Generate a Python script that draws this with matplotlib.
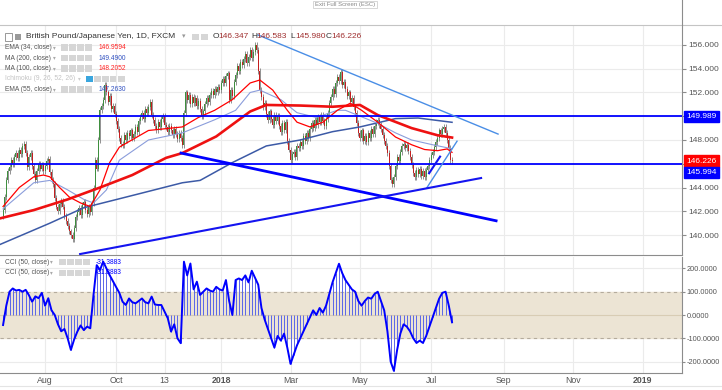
# %%
import matplotlib.pyplot as plt
from matplotlib.patches import Rectangle
import numpy as np
import pandas as pd

plt.rcParams["font.family"] = ["Liberation Sans", "DejaVu Sans"]

# %%
# GBP/JPY daily closes, first bar on 26 Jun 2017
start_date = "2017-06-26"
first_open = 141.6
closes = [
    142.1, 143.2, 144.6, 145.4, 145.7, 146.3, 146.0, 146.6, 146.9, 146.5,
    147.2, 146.8, 147.5, 147.7, 146.9, 145.7, 146.6, 146.9, 145.8, 145.1,
    144.6, 145.4, 146.0, 145.6, 145.9, 145.4, 145.8, 146.2, 146.4, 145.3,
    144.6, 144.3, 143.1, 142.4, 142.0, 142.6, 142.9, 142.4, 141.6, 141.2,
    140.8, 140.3, 140.0, 139.7, 140.6, 141.5, 141.9, 142.3, 141.7, 142.5,
    142.8, 142.1, 141.8, 142.4, 141.9, 142.7, 144.0, 146.3, 145.6, 148.0,
    150.5, 150.9, 151.4, 152.6, 152.0, 151.2, 151.7, 150.6, 150.9, 150.2,
    149.6, 148.9, 148.2, 147.7, 147.6, 148.4, 148.0, 148.6, 148.3, 148.8,
    148.2, 148.5, 149.1, 148.7, 149.6, 149.9, 150.3, 149.8, 150.6, 150.3,
    150.8, 151.2, 150.1, 149.7, 149.2, 148.8, 149.5, 149.1, 149.8, 150.0,
    149.3, 149.1, 148.7, 149.2, 148.8, 148.4, 148.9, 148.5, 148.1, 148.6,
    148.2, 147.6, 150.3, 152.0, 151.4, 151.8, 151.0, 151.6, 151.1, 151.5,
    150.9, 151.3, 150.6, 150.0, 150.4, 151.0, 151.5, 151.2, 151.8, 152.1,
    151.8, 152.3, 152.0, 152.5, 152.2, 152.8, 153.1, 152.8, 153.4, 153.6,
    151.4, 152.2, 151.7, 152.9, 153.5, 154.2, 153.8, 154.6, 154.3, 154.8,
    155.2, 154.5, 155.0, 155.6, 154.9, 155.4, 156.0, 155.6, 153.8, 152.2,
    151.6, 150.8, 151.1, 150.2, 149.7, 150.4, 149.8, 149.3, 150.1, 149.6,
    150.0, 149.2, 148.7, 149.4, 148.8, 149.5, 147.9, 147.2, 146.3, 146.8,
    147.0, 146.6, 147.5, 147.3, 147.8, 147.5, 148.3, 147.9, 148.6, 148.2,
    148.9, 149.4, 149.0, 149.7, 149.3, 149.9, 149.5, 150.1, 149.6, 149.2,
    149.8, 150.3, 151.1, 151.6, 152.3, 151.9, 152.8, 153.3, 153.0, 153.7,
    152.6, 152.9, 152.3, 151.7, 152.0, 151.2, 151.5, 150.8, 150.3, 149.4,
    148.6, 148.2, 148.8, 147.9, 148.3, 147.8, 148.6, 148.2, 148.9, 148.5,
    149.2, 149.5, 149.7, 149.3, 148.9, 148.4, 147.9, 147.5, 146.9, 145.8,
    144.6, 144.3, 144.9, 145.8, 146.6, 146.2, 147.0, 147.5, 147.7, 147.3,
    147.6, 147.1, 146.6, 145.9, 145.2, 144.9, 145.5, 145.1, 145.6, 145.0,
    145.4, 144.9, 145.5, 145.8, 146.3, 146.7, 147.0, 147.4, 147.8, 148.2,
    148.8, 148.5, 148.9, 149.1, 148.6, 148.0, 147.3, 146.347, 146.226,
]
last_high = 146.583
last_low = 145.980
wick = 0.25

# moving averages (bar index, value)
ema34_bars = [0, 10, 19, 25, 29, 35, 41, 48, 54, 60, 66, 72, 90, 111, 121, 131, 142,
              153, 159, 167, 176, 182, 190, 198, 207, 215, 222, 232, 243, 253, 261,
              269, 275, 278]
ema34_vals = [142.4, 144.0, 144.9, 145.05, 144.9, 144.0, 143.2, 142.7, 142.4, 143.8,
              146.1, 147.4, 148.8, 149.1, 149.9, 150.5, 151.4, 152.8, 153.05, 152.2,
              150.5, 149.5, 149.1, 149.5, 150.5, 151.1, 150.5, 149.5, 148.25, 147.6,
              147.2, 147.1, 147.25, 146.9594]
ema55_bars = [0, 19, 29, 40, 50, 56, 64, 72, 90, 111, 131, 144, 153, 159, 172, 182,
              194, 207, 212, 232, 243, 253, 266, 278]
ema55_vals = [142.2, 144.4, 144.6, 143.8, 143.0, 142.7, 143.8, 146.3, 148.0, 148.6,
              149.7, 150.5, 152.0, 152.2, 151.4, 150.3, 149.9, 150.5, 150.5, 149.4,
              148.6, 148.0, 147.6, 147.263]
ma100_bars = [-2, 19, 40, 60, 80, 101, 111, 132, 153, 163, 184, 204, 221, 232, 253,
              269, 278]
ma100_vals = [141.4, 142.1, 143.0, 144.0, 145.05, 146.5, 146.9, 148.3, 150.4, 150.95,
              150.9, 150.8, 150.95, 150.1, 149.0, 148.4, 148.2052]
ma200_bars = [-2, 29, 50, 69, 85, 111, 122, 142, 163, 184, 204, 221, 243, 257, 278]
ma200_vals = [139.2, 141.0, 142.3, 142.95, 143.5, 144.4, 144.6, 146.1, 147.5, 148.0,
              148.7, 149.1, 149.8, 149.85, 149.49]

cci_vals = [
    -43, 40, 100, 114, 105, 108, 100, 108, 85, 57, 80, 72, 95, 40, 72, 20, 0, -40,
    -70, -60, -100, -150, -105, -71, -45, -65, -50, -57, 86, 214, 193, 229, 200, 171,
    145, 120, 95, 57, 43, 71, 55, 50, 60, 71, 55, 50, 79, 45, 43, 43, 14, -14, -71,
    -40, -100, -121, 229, 170, 221, 110, 143, 86, 100, 114, 105, 100, 121, 110, 105,
    150, 60, 0, 150, 157, 150, 170, 140, 190, 160, 130, 30, -20, -60, -100, -140, -90,
    -110, -80, -140, -210, -170, -130, -100, -70, -40, -10, 20, 0, 30, 10, 40, 90,
    140, 180, 220, 180, 150, 130, 110, 100, 60, 40, 60, 75, 70, 90, 100, 60, 20, -70,
    -200, -240, -150, -80, -40, -50, -70, -100, -120, -110, -120, -90, -50, -10, 30,
    70, 95, 100, 40, -31.3883,
]

# drawn levels and trend lines (bar index, price)
levels = [149.989, 145.994]
thin_lines = [((157.9, 156.84), (306.5, 148.5)), ((262.5, 144.0), (281.1, 147.9))]
thick_line = ((110.2, 146.9), (305.3, 141.2))
support_lines = [((47.7, 138.4), (296.0, 144.8)), ((263.8, 145.2), (270.6, 146.6))]

tick_dates = ["2017-08-01", "2017-10-02", "2017-11-13", "2018-01-01", "2018-03-01",
              "2018-05-01", "2018-07-02", "2018-09-03", "2018-11-01", "2019-01-01"]
tick_labels = ["Aug", "Oct", "13", "2018", "Mar", "May", "Jul", "Sep", "Nov", "2019"]

# %%
n = len(closes)
x = np.arange(n)
c = np.array(closes)
o = np.r_[first_open, c[:-1]]
hi = np.maximum(o, c) + wick
lo = np.minimum(o, c) - wick
hi[-1], lo[-1] = last_high, last_low

all_days = pd.bdate_range(start_date, "2019-03-01")
tick_pos = all_days.searchsorted(pd.to_datetime(tick_dates))

W, H = 722, 390
fig = plt.figure(figsize=(W / 100, H / 100), dpi=100)
ax = fig.add_axes([0, 135 / H, 682 / W, 230 / H])
cax = fig.add_axes([0, 17 / H, 682 / W, 116 / H], sharex=ax)

grid_c = "#ebebeb"
axis_c = "#8c8c8c"
txt_c = "#555555"

for a in (ax, cax):
    for s in ("left", "top"):
        a.spines[s].set_visible(False)
    a.spines["right"].set_color(axis_c)
    a.spines["bottom"].set_color(axis_c)
    a.yaxis.tick_right()
    a.tick_params(axis="y", colors=axis_c, labelcolor=txt_c, labelsize=6.0, length=3,
                  width=0.8, pad=1.5)
    for t in tick_pos:
        a.axvline(t, color=grid_c, lw=0.8, zorder=0)

# %% price pane
ax.set_xlim(-1.9, 420.4)
ax.set_ylim(138.32, 157.68)
yt = np.arange(140, 157, 2)
ax.set_yticks(yt)
ax.set_yticklabels(["" if v in (146, 150) else f"{v:.3f}" for v in yt])
for v in yt:
    ax.axhline(v, color=grid_c, lw=0.8, zorder=0)
ax.tick_params(axis="x", length=0, labelbottom=False)

ax.plot(ma200_bars, ma200_vals, color="#3c5aa6", lw=1.1, zorder=4)
ax.plot(ema55_bars, ema55_vals, color="#8b9ddb", lw=0.8, zorder=4)
ax.plot(ma100_bars, ma100_vals, color="#ee1111", lw=1.9, zorder=4)
ax.plot(ema34_bars, ema34_vals, color="#ff0000", lw=0.9, zorder=4)

up = c >= o
body = np.maximum(np.abs(c - o), 0.05)
ax.vlines(x, lo, hi, color="#808080", lw=0.6, zorder=2)
ax.bar(x[up], body[up], bottom=o[up], width=0.62, color="#3f8f3f", lw=0, zorder=3)
ax.bar(x[~up], body[~up], bottom=c[~up], width=0.62, color="#c41f1f", lw=0, zorder=3)

for v in levels:
    ax.axhline(v, color="#0000ff", lw=1.3, zorder=5)
for (x0, y0), (x1, y1) in thin_lines:
    ax.plot([x0, x1], [y0, y1], color="#4a8ee6", lw=1.0, zorder=5)
(x0, y0), (x1, y1) = thick_line
ax.plot([x0, x1], [y0, y1], color="#0000ff", lw=2.0, zorder=5)
for (x0, y0), (x1, y1) in support_lines:
    ax.plot([x0, x1], [y0, y1], color="#1414f0", lw=1.5, zorder=5)

price_tags = [(levels[0], "#0000ff", 0), (c[-1], "#ff0000", 0), (levels[1], "#0000ff", -6.5)]
for v, col, dy in price_tags:
    ax.annotate(f"{v:.3f}", xy=(1, v), xycoords=("axes fraction", "data"),
                xytext=(3, dy), textcoords="offset points", ha="left", va="center",
                fontsize=6.0, color="white", annotation_clip=False, zorder=10,
                bbox=dict(boxstyle="square,pad=0.25", fc=col, ec=col))

# %% CCI pane
cax.set_ylim(-249, 249)
ct = [200, 100, 0, -100, -200]
cax.set_yticks(ct)
cax.set_yticklabels([f"{v:.4f}" for v in ct])
cax.tick_params(axis="y", labelsize=5.3, pad=1, length=2.5)
for v in (200, -200):
    cax.axhline(v, color=grid_c, lw=0.8, zorder=0)
cax.axhspan(-100, 100, color="#ece4d4", zorder=1)
cax.axhline(0, color="#d8ccb4", lw=0.8, zorder=1)
for v in (100, -100):
    cax.axhline(v, color="#b4ab9c", lw=0.8, ls=(0, (3, 3)), zorder=1)
cci_x = x[::2]
cax.vlines(cci_x, 0, cci_vals, color="#5a66e8", lw=0.7, zorder=2)
cax.plot(cci_x, cci_vals, color="#0000ff", lw=1.4, zorder=3)

cax.set_xticks(tick_pos)
cax.set_xticklabels(tick_labels)
cax.tick_params(axis="x", length=0, labelsize=6.3, labelcolor=txt_c, pad=2.5)
for lab in cax.get_xticklabels():
    if lab.get_text() in ("2018", "2019"):
        lab.set_fontweight("bold")

# %% header, legends and frame
def fx(px):
    return px / W


def fy(py):
    return 1 - py / H


def icon(xp, yp, fc="#d6d6d6", w=6.5, h=6.5):
    fig.add_artist(Rectangle((fx(xp), fy(yp + h / 2)), w / W, h / H,
                             transform=fig.transFigure, fc=fc, ec="none"))


fig.add_artist(plt.Line2D([0, 1], [fy(25), fy(25)], color="#c4c4c4", lw=0.8))
fig.add_artist(plt.Line2D([fx(682), fx(682)], [fy(25), 1], color=axis_c, lw=0.8))
fig.add_artist(plt.Line2D([0, 1], [fy(386), fy(386)], color="#e4e4e4", lw=0.8))
fig.text(fx(345), fy(4.5), "Exit Full Screen (ESC)", fontsize=4.3, color="#888888",
         ha="center", va="center",
         bbox=dict(boxstyle="square,pad=0.25", fc="white", ec="#d0d0d0", lw=0.6))

fig.add_artist(Rectangle((fx(5), fy(40.5)), 7 / W, 7 / H, transform=fig.transFigure,
                         fc="none", ec="#888888", lw=0.6))
icon(15, 37, fc="#9a9a9a", w=6, h=6)
fig.text(fx(26), fy(37), "British Pound/Japanese Yen, 1D, FXCM", fontsize=6.0,
         color="#333333", va="center")
fig.text(fx(182), fy(37), "▾", fontsize=5, color="#999999", va="center")
icon(192, 37)
icon(201, 37)
ohlc = [("O", 213, "146.347"), ("H", 251, "146.583"), ("L", 290, "145.980"),
        ("C", 326, "146.226")]
for k, xp, val in ohlc:
    fig.text(fx(xp), fy(37), k, fontsize=6.0, color="#333333", va="center")
    fig.text(fx(xp + 5.5), fy(37), val, fontsize=6.0, color="#a03030", va="center")

legend_rows = [
    ("EMA (34, close)", "146.9594", "#ff2222", 47.7),
    ("MA (200, close)", "149.4900", "#3050c0", 58),
    ("MA (100, close)", "148.2052", "#ff2222", 68.5),
    ("EMA (55, close)", "147.2630", "#3050c0", 89.3),
]
for name, val, col, yp in legend_rows:
    fig.text(fx(5), fy(yp), name, fontsize=4.8, color=txt_c, va="center")
    fig.text(fx(53), fy(yp), "▾", fontsize=4, color="#aaaaaa", va="center")
    for i in range(4):
        icon(61 + 8 * i, yp)
    fig.text(fx(99), fy(yp), val, fontsize=4.8, color=col, va="center")

fig.text(fx(5), fy(79), "Ichimoku (9, 26, 52, 26)", fontsize=4.8, color="#c4c4c4",
         va="center")
fig.text(fx(78), fy(79), "▾", fontsize=4, color="#cccccc", va="center")
icon(86, 79, fc="#3aa6de")
for i in range(1, 5):
    icon(86 + 8 * i, 79)

for yp in (262, 273):
    fig.text(fx(5), fy(yp), "CCI (50, close)", fontsize=4.8, color=txt_c, va="center")
    fig.text(fx(50), fy(yp), "▾", fontsize=4, color="#aaaaaa", va="center")
    for i in range(4):
        icon(59 + 8 * i, yp)
    fig.text(fx(96), fy(yp), "-31.3883", fontsize=4.8, color="#0000ff", va="center")

fig.savefig("out.png", dpi=100)
